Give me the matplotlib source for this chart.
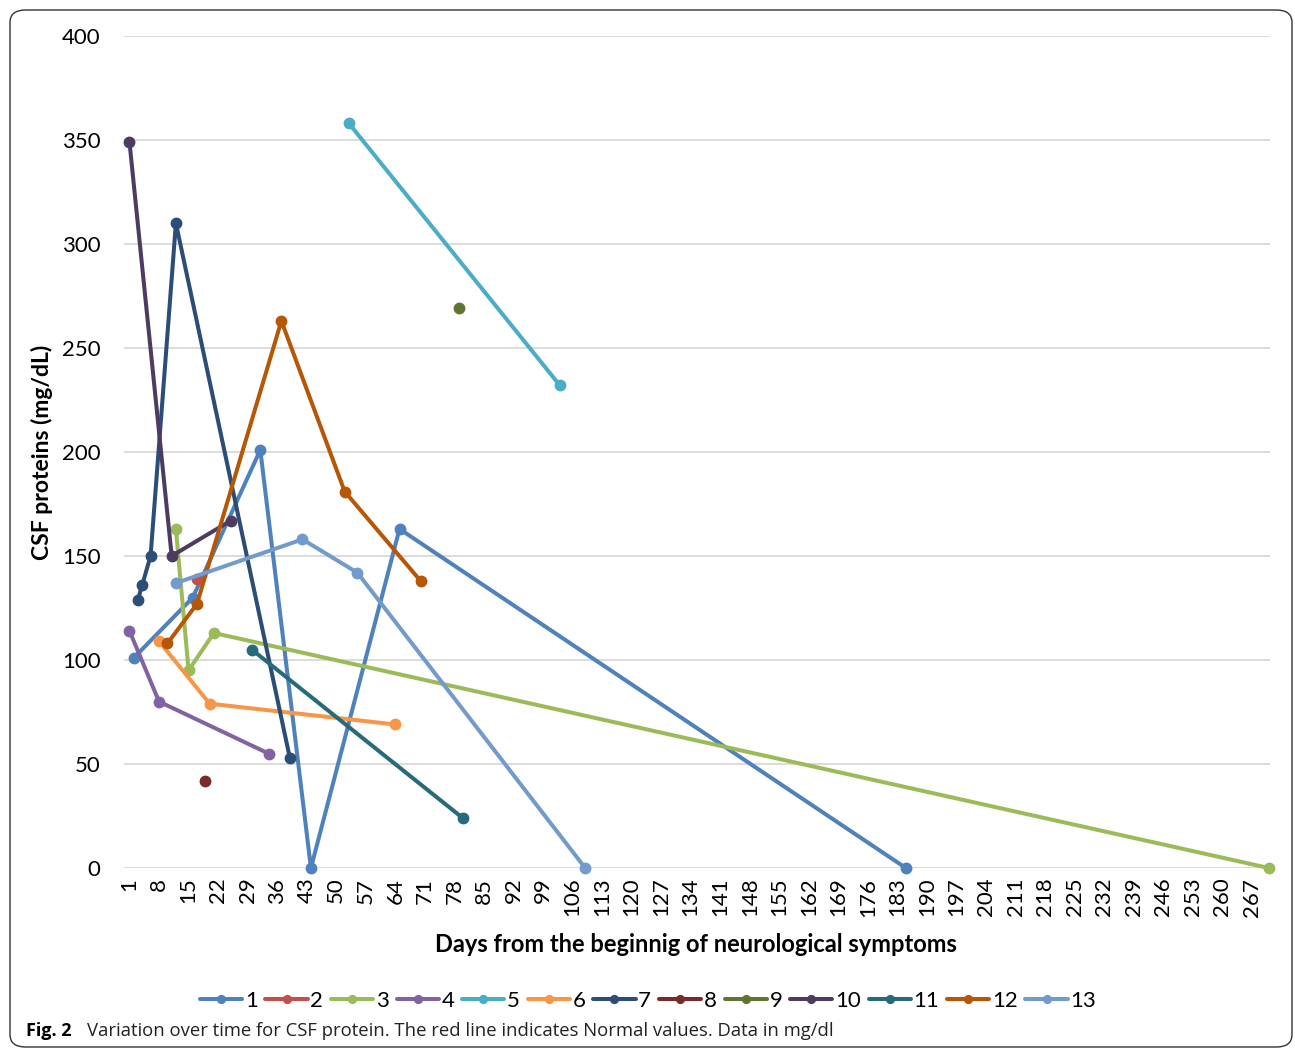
import matplotlib
matplotlib.use("Agg")
import matplotlib.pyplot as plt
from matplotlib.patches import FancyBboxPatch

plt.rcParams['font.family'] = ['Lato', 'DejaVu Sans']

# Data: days from onset and CSF protein values (mg/dL) per patient
days_1 = [2, 16, 32, 44, 65, 185]
vals_1 = [101, 130, 201, 0, 163, 0]
days_2 = [17]
vals_2 = [139]
days_3 = [12, 15, 21, 271]
vals_3 = [163, 95, 113, 0]
days_4 = [1, 8, 34]
vals_4 = [114, 80, 55]
days_5 = [53, 103]
vals_5 = [358, 232]
days_6 = [8, 20, 64]
vals_6 = [109, 79, 69]
days_7 = [3, 4, 6, 12, 39]
vals_7 = [129, 136, 150, 310, 53]
days_8 = [19]
vals_8 = [42]
days_9 = [79]
vals_9 = [269]
days_10 = [1, 11, 25]
vals_10 = [349, 150, 167]
days_11 = [30, 80]
vals_11 = [105, 24]
days_12 = [10, 17, 37, 52, 70]
vals_12 = [108, 127, 263, 181, 138]
days_13 = [12, 42, 55, 109]
vals_13 = [137, 158, 142, 0]

series_names = ['1', '2', '3', '4', '5', '6', '7', '8', '9', '10', '11', '12', '13']
series_days = [days_1, days_2, days_3, days_4, days_5, days_6, days_7,
               days_8, days_9, days_10, days_11, days_12, days_13]
series_vals = [vals_1, vals_2, vals_3, vals_4, vals_5, vals_6, vals_7,
               vals_8, vals_9, vals_10, vals_11, vals_12, vals_13]
colors = ['#4F81BD', '#C0504D', '#9BBB59', '#8064A2', '#4BACC6', '#F79646',
          '#2C4D75', '#772C2A', '#5F7530', '#4D3B62', '#276A7C', '#B65708',
          '#729ACA']

x_ticks = list(range(1, 268, 7))
y_ticks = [0, 50, 100, 150, 200, 250, 300, 350, 400]

fig = plt.figure(figsize=(12.95, 10.5), dpi=100)
ax = fig.add_axes([124 / 1295, 1 - 868 / 1050, (1270 - 124) / 1295, (868 - 36) / 1050])

handles = []
for name, d, v, c in zip(series_names, series_days, series_vals, colors):
    h, = ax.plot(d, v, color=c, lw=2.9, marker='o', markersize=7.5,
                 solid_capstyle='round', label=name, clip_on=False)
    handles.append(h)

ax.set_xlim(-0.3, 271.3)
ax.set_ylim(0, 400)
ax.set_yticks(y_ticks)
ax.set_yticklabels([str(t) for t in y_ticks], fontsize=16)
ax.set_xticks(x_ticks)
ax.set_xticklabels([str(t) for t in x_ticks], rotation=90, fontsize=16)
ax.tick_params(axis='both', length=0)
ax.tick_params(axis='x', pad=7)
ax.tick_params(axis='y', pad=17)
ax.grid(axis='y', color='#D9D9D9', lw=1.3)
ax.set_axisbelow(True)
for s in ax.spines.values():
    s.set_visible(False)

fig.text(42 / 1295, 1 - 452 / 1050, 'CSF proteins (mg/dL)', rotation=90,
         ha='center', va='center', fontsize=16.5, fontweight='bold')
fig.text(696 / 1295, 1 - 944 / 1050, 'Days from the beginnig of neurological symptoms',
         ha='center', va='center', fontsize=17, fontweight='bold')

fig.legend(handles=handles, loc='center', bbox_to_anchor=(648 / 1295, 1 - 1001 / 1050),
           ncol=13, frameon=False, fontsize=16, handlelength=1.9,
           handletextpad=0.12, columnspacing=0.35, markerscale=0.75)

fig.text(26 / 1295, 1 - 1031 / 1050, 'Fig. 2', fontsize=13, fontweight='bold',
         ha='left', va='center', family=['Open Sans', 'DejaVu Sans'])
fig.text(87 / 1295, 1 - 1031 / 1050,
         'Variation over time for CSF protein. The red line indicates Normal values. Data in mg/dl',
         fontsize=13.3, ha='left', va='center', family=['Open Sans', 'DejaVu Sans'],
         color='#222222')

border = FancyBboxPatch((10 / 1295, 3 / 1050), (1292 - 10) / 1295, (1040 - 3) / 1050,
                        boxstyle='round,pad=0,rounding_size=0.012',
                        transform=fig.transFigure, fill=False, ec='#333333', lw=1.0)
fig.patches.append(border)

fig.savefig('out.png', dpi=100)
